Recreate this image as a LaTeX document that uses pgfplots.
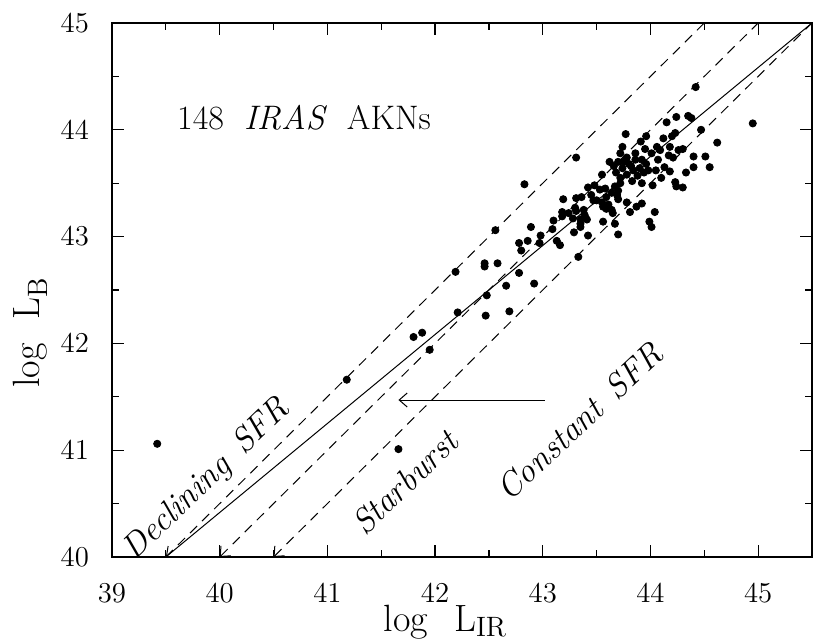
\documentclass[border=0pt]{standalone}
\usepackage{pgfplots}
\pgfplotsset{compat=1.18}
\usetikzlibrary{arrows.meta}
\begin{document}
\begin{tikzpicture}
\begin{axis}[
  at={(0,0)}, anchor=south west,
  scale only axis, width=350pt, height=267pt,
  xmin=39, xmax=45.5, ymin=40, ymax=45,
  xtick={39,...,45}, ytick={40,...,45},
  minor x tick num=1, minor y tick num=1,
  tick align=inside, xtick pos=both, ytick pos=both,
  xticklabel pos=lower, yticklabel pos=left,
  major tick length=6pt, minor tick length=3.5pt,
  axis line style={line width=0.8pt},
  every tick/.style={black, line width=0.6pt},
  tick label style={font=\fontsize{13.5}{16}\selectfont},
  xticklabel style={yshift=-10pt},
  yticklabel style={xshift=-8pt},
]
% model lines
\addplot[black, line width=0.5pt, {Straight Barb[length=4pt,width=7pt]}-] coordinates {(39.5,40) (45.5,45)};
\addplot[black, line width=0.5pt, dash pattern=on 5pt off 3.5pt] coordinates {(39.5,40) (44.5,45)};
\addplot[black, line width=0.5pt, dash pattern=on 5pt off 3.5pt, {Straight Barb[length=4pt,width=7pt]}-] coordinates {(40,40) (45,45)};
\addplot[black, line width=0.5pt, dash pattern=on 5pt off 3.5pt, {Straight Barb[length=4pt,width=7pt]}-] coordinates {(40.5,40) (45.5,45)};
\addplot[black, line width=0.5pt, -{Straight Barb[length=4pt,width=7pt]}] coordinates {(43.02,41.47) (41.66,41.47)};
% data
\addplot[only marks, mark=*, mark size=1.8pt, black] coordinates {
(39.42,41.06) (41.18,41.66) (41.66,41.01) (41.80,42.06) (41.88,42.10)
(41.95,41.94) (42.19,42.67) (42.21,42.29) (42.47,42.26) (42.69,42.30)
(42.48,42.45) (42.46,42.75) (42.46,42.72) (42.58,42.75) (42.66,42.54)
(42.78,42.66) (42.92,42.56) (42.80,42.87) (42.78,42.94) (42.86,42.96)
(42.97,42.94) (42.98,43.01) (42.56,43.06) (42.89,43.09) (42.83,43.49)
(43.31,43.74) (43.10,43.15) (43.09,43.07) (43.13,42.96) (43.16,42.92)
(43.33,42.81) (43.19,43.35) (43.18,43.23) (43.18,43.19) (43.31,43.36)
(43.36,43.37) (43.42,43.46) (43.48,43.48) (43.31,43.24) (43.38,43.25)
(43.39,43.20) (43.28,43.17) (43.35,43.16) (43.41,43.16) (43.35,43.09)
(43.29,43.04) (43.42,43.01) (43.30,43.27) (43.24,43.22) (43.35,43.12)
(44.42,44.40) (44.24,44.12) (44.35,44.13) (44.38,44.11) (44.15,44.07)
(44.47,44.00) (43.77,43.96) (43.96,43.94) (43.91,43.89) (44.12,43.92)
(44.20,43.94) (44.23,43.97) (44.06,43.84) (44.09,43.81) (44.18,43.84)
(44.26,43.81) (44.30,43.82) (44.01,43.78) (44.17,43.76) (44.21,43.74)
(43.74,43.84) (44.40,43.75) (44.51,43.75) (44.07,43.72) (43.55,43.58)
(44.05,43.62) (44.13,43.65) (44.18,43.61) (44.33,43.60) (44.40,43.65)
(44.23,43.51) (44.24,43.47) (44.30,43.46) (43.53,43.44) (43.58,43.45)
(43.72,43.50) (43.67,43.47) (43.70,43.43) (43.64,43.41) (43.59,43.37)
(43.69,43.39) (43.70,43.35) (44.02,43.48) (43.55,43.32) (43.56,43.28)
(43.61,43.30) (43.64,43.25) (43.65,43.22) (43.59,43.26) (43.45,43.39)
(43.47,43.34) (43.50,43.34) (43.78,43.32) (43.56,43.14) (43.67,43.12)
(43.92,43.31) (44.04,43.23) (43.99,43.14) (44.01,43.09) (43.70,43.02)
(43.87,43.28) (43.81,43.23) (43.72,43.78) (43.78,43.74) (43.75,43.70)
(43.70,43.70) (43.80,43.68) (43.86,43.72) (43.92,43.72) (43.74,43.64)
(43.84,43.62) (43.90,43.64) (43.96,43.68) (43.68,43.60) (43.78,43.58)
(43.88,43.57) (43.94,43.60) (43.72,43.55) (43.82,43.66) (43.66,43.66)
(43.98,43.62) (43.86,43.78) (44.95,44.06) (44.62,43.88) (44.55,43.65)
(43.83,43.52) (43.92,43.50) (43.62,43.70) (43.95,43.82) (44.10,43.55)
};
\node[anchor=base west, font=\fontsize{17}{20}\selectfont] at (axis cs:39.54,44.0) {148\hspace{10pt}\textit{IRAS}\hspace{10pt}AKNs};
\node[rotate=44, font=\fontsize{17}{20}\selectfont\itshape] at (axis cs:39.88,40.72) {Declining\hspace{0.5em}SFR};
\node[rotate=44, font=\fontsize{17}{20}\selectfont\itshape] at (axis cs:41.72,40.70) {Starburst};
\node[rotate=43, font=\fontsize{17}{20}\selectfont\itshape] at (axis cs:43.34,41.27) {Constant\hspace{0.5em}SFR};
\end{axis}
% axis titles
\node[anchor=base, font=\fontsize{19}{22}\selectfont] at (166.5pt,-37pt) {log\hspace{13pt}L\raisebox{-3pt}{\fontsize{14}{16}\selectfont IR}};
\node[rotate=90, anchor=base, font=\fontsize{19}{22}\selectfont] at (-36pt,112pt) {log\hspace{12pt}L\raisebox{-4pt}{\fontsize{14}{16}\selectfont B}};
\pgfresetboundingbox
\path (-56pt,-42.5pt) rectangle (350.5pt,278.5pt);
\end{tikzpicture}
\end{document}
